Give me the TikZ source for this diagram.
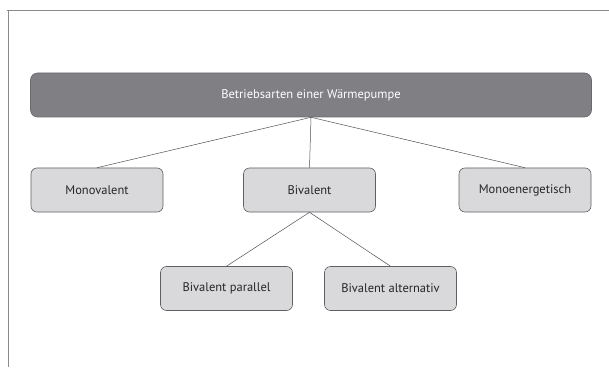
\documentclass[tikz,border=0pt]{standalone}
\usepackage{fontspec}
\setmainfont{PT Sans}
\definecolor{topfill}{HTML}{808084}
\definecolor{topdraw}{HTML}{6A6A6E}
\definecolor{boxfill}{HTML}{D9D9DB}
\definecolor{boxdraw}{HTML}{606062}
\definecolor{linecol}{HTML}{505052}
\definecolor{framecol}{HTML}{8A8A8A}
\begin{document}
\begin{tikzpicture}[x=1pt,y=1pt,
  topbox/.style={draw=topdraw,fill=topfill,rounded corners=7pt,text=white,
    minimum width=561pt,minimum height=44pt,font=\fontsize{12.5}{14}\selectfont,line width=0.6pt},
  subbox/.style={draw=boxdraw,fill=boxfill,rounded corners=6pt,text=black!85,
    minimum width=132pt,minimum height=44pt,font=\fontsize{12.5}{14}\selectfont,line width=0.6pt},
  conn/.style={draw=linecol,line width=0.5pt}]
\useasboundingbox (0,0) rectangle (609,367);
\draw[framecol,line width=0.8pt] (7,357) -- (609,357);
\draw[framecol,line width=0.8pt] (8,357.4) -- (8,0);
\node[topbox] (top) at (311,272) {Betriebsarten einer Wärmepumpe};
\node[subbox] (mono) at (97,177) {Monovalent};
\node[subbox] (biv) at (309.5,177) {Bivalent};
\node[subbox] (moe) at (525,177) {Monoenergetisch};
\node[subbox] (bp) at (226.5,78.5) {Bivalent parallel};
\node[subbox] (ba) at (390.5,78.5) {Bivalent alternativ};
\draw[conn] (top.south) -- (mono.north);
\draw[conn] (top.south) -- (biv.north);
\draw[conn] (top.south) -- (moe.north);
\draw[conn] (biv.south) -- (bp.north);
\draw[conn] (biv.south) -- (ba.north);
\end{tikzpicture}
\end{document}
